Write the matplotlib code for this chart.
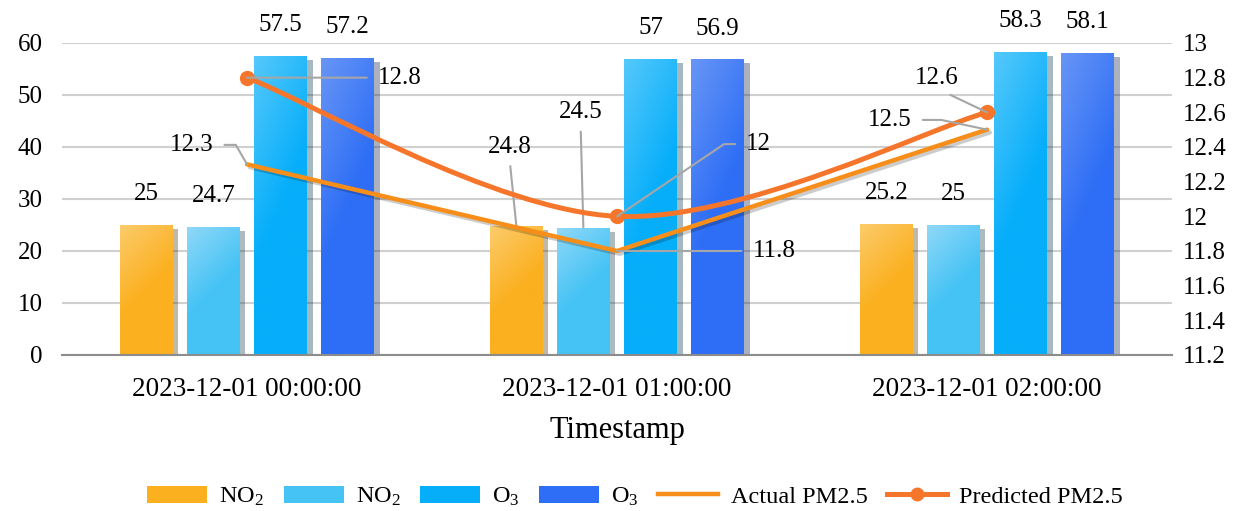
"""
NO2 / O3 浓度柱状图 + PM2.5 实际/预测折线（双轴）
"""

import numpy as np
import matplotlib
matplotlib.use("Agg")
import matplotlib.pyplot as plt
import matplotlib.patheffects as pe
from matplotlib.path import Path
from matplotlib.patches import PathPatch, Patch
from matplotlib.lines import Line2D
from matplotlib.colors import LinearSegmentedColormap

plt.rcParams["font.family"] = ["Liberation Serif", "DejaVu Serif"]
plt.rcParams["mathtext.fontset"] = "custom"
plt.rcParams["mathtext.rm"] = "Liberation Serif"
plt.rcParams["mathtext.it"] = "Liberation Serif:italic"

# ---- data ----
timestamps = ["2023-12-01 00:00:00", "2023-12-01 01:00:00", "2023-12-01 02:00:00"]
no2_a = [25, 24.8, 25.2]
no2_b = [24.7, 24.5, 25]
o3_a = [57.5, 57, 58.3]
o3_b = [57.2, 56.9, 58.1]
pm25_actual = [12.3, 11.8, 12.5]
pm25_pred = [12.8, 12.0, 12.6]

bar_series = [
    ("NO$_2$", no2_a, "#FBB020", "#FCCB6A"),
    ("NO$_2$", no2_b, "#45C3F5", "#8FD8F8"),
    ("O$_3$", o3_a, "#06AEFA", "#55C8FB"),
    ("O$_3$", o3_b, "#2E6EF6", "#6795F5"),
]
offsets = [-0.272, -0.091, 0.091, 0.272]
bar_w = 0.143
c_actual = "#F78E1A"
c_pred = "#F5762B"
leader = "#A6A6A6"

fig = plt.figure(figsize=(12.38, 5.11), dpi=100)
ax = fig.add_axes([0.0501, 0.3053, 0.8966, 0.6106])
ax2 = ax.twinx()

x = np.arange(len(timestamps))

# ---- bars with gradient + shadow ----
gx, gy = np.meshgrid(np.linspace(0, 1, 40), np.linspace(0, 1, 40))
grad = (gx + gy * 2.5) / 3.5   # row 0 = top -> light top-left
for (name, vals, c_main, c_light), off in zip(bar_series, offsets):
    bars = ax.bar(x + off, vals, width=bar_w, color=c_main, zorder=2,
                  path_effects=[pe.withSimplePatchShadow(offset=(4, -3), alpha=0.35)])
    cmap = LinearSegmentedColormap.from_list("g", [c_light, c_main, c_main])
    for b in bars:
        im = ax.imshow(grad, cmap=cmap, extent=(b.get_x(), b.get_x() + b.get_width(), 0, b.get_height()),
                       origin="upper", aspect="auto", zorder=2.1, vmin=0, vmax=1)
        im.set_clip_path(b)

# bar labels
for i, (name, vals, c_main, c_light) in enumerate(bar_series):
    for j, v in enumerate(vals):
        xp = j + offsets[i]
        if j == 1 and i == 0:
            ax.annotate(f"{v:g}", xy=(xp, v), xytext=(-5, 57), textcoords="offset points",
                        ha="center", va="center", fontsize=18,
                        arrowprops=dict(arrowstyle="-", color=leader, lw=1.5, relpos=(0.5, 0),
                                        shrinkA=4, shrinkB=0))
        elif j == 1 and i == 1:
            ax.annotate(f"{v:g}", xy=(xp, v), xytext=(-2, 83), textcoords="offset points",
                        ha="center", va="center", fontsize=18,
                        arrowprops=dict(arrowstyle="-", color=leader, lw=1.5, relpos=(0.5, 0),
                                        shrinkA=4, shrinkB=0))
        else:
            ax.annotate(f"{v:g}", xy=(xp, v), xytext=(0, 22), textcoords="offset points",
                        ha="center", va="center", fontsize=18)

# ---- lines ----
ax2.plot(x, pm25_actual, color=c_actual, lw=3.2, zorder=3, solid_capstyle="round",
         path_effects=[pe.SimpleLineShadow(offset=(2, -2), alpha=0.2), pe.Normal()])

# smoothed predicted line (bezier through data points)
pts = np.column_stack([x, pm25_pred]).astype(float)
verts = [tuple(pts[0])]
codes = [Path.MOVETO]
n = len(pts)
for i in range(n - 1):
    p0, p1, p2, p3 = pts[max(i - 1, 0)], pts[i], pts[i + 1], pts[min(i + 2, n - 1)]
    verts += [tuple(p1 + (p2 - p0) / 6), tuple(p2 - (p3 - p1) / 6), tuple(p2)]
    codes += [Path.CURVE4] * 3
ax2.add_patch(PathPatch(Path(verts, codes), fill=False, edgecolor=c_pred, lw=3.6, zorder=4,
                        capstyle="round"))
ax2.plot(x, pm25_pred, linestyle="none", marker="o", markersize=10, color=c_pred, zorder=5)

# line labels (offsets in points, leader settings)
line_labels = [
    (0, pm25_actual[0], (-40, 14), (1, 0.5), "angle,angleA=0,angleB=120,rad=0"),
    (1, pm25_actual[1], (113, 0), (0, 0.5), "arc3"),
    (2, pm25_actual[2], (-70, 7), (1, 0.5), "angle,angleA=0,angleB=168,rad=0"),
    (0, pm25_pred[0], (110, 0), (0, 0.5), "arc3"),
    (1, pm25_pred[1], (102, 52), (0, 0.5), "angle,angleA=0,angleB=34,rad=0"),
    (2, pm25_pred[2], (-36, 25), (0.5, 0), "arc3"),
]
for xi, yi, off, rel, conn in line_labels:
    ax2.annotate(f"{yi:g}", xy=(xi, yi), xytext=off, textcoords="offset points",
                 ha="center", va="center", fontsize=18, zorder=6,
                 arrowprops=dict(arrowstyle="-", color=leader, lw=1.5, relpos=rel,
                                 connectionstyle=conn, shrinkA=6, shrinkB=0))

# ---- axes styling ----
right_ticks = np.round(np.arange(11.2, 13.01, 0.2), 1)
ax.set_xlim(-0.5, 2.5)
ax.set_ylim(0, 60)
ax.set_yticks(np.arange(0, 61, 10))
ax2.set_ylim(11.2, 13)
ax2.set_yticks(right_ticks)
ax2.set_yticklabels([f"{t:g}" for t in right_ticks])
ax.set_xticks(x)
ax.set_xticklabels(timestamps)
ax.set_axisbelow(True)
ax.grid(axis="y", color="#D0D0D0", lw=1.5)
ax.tick_params(axis="y", length=0, labelsize=18, pad=14)
ax.tick_params(axis="x", length=0, labelsize=19.5, pad=16)
ax2.tick_params(axis="y", length=0, labelsize=18, pad=8)
for a in (ax, ax2):
    for s in ("top", "left", "right"):
        a.spines[s].set_visible(False)
ax2.spines["bottom"].set_visible(False)
ax.spines["bottom"].set_color("#8C8C8C")
ax.spines["bottom"].set_linewidth(1.5)
ax.set_xlabel("Timestamp", fontsize=22, labelpad=10)

# ---- legend ----
handles = [Patch(facecolor=c, edgecolor="none") for _, _, c, _ in bar_series]
handles += [Line2D([], [], color=c_actual, lw=3.2),
            Line2D([], [], color=c_pred, lw=3.6, marker="o", markersize=9)]
labels = [s[0] for s in bar_series] + ["Actual PM2.5", "Predicted PM2.5"]
fig.legend(handles, labels, loc="center", bbox_to_anchor=(635 / 1238, 1 - 497 / 511), ncol=6,
           frameon=False, fontsize=17.5, handlelength=2.47, handleheight=0.75,
           handletextpad=0.5, columnspacing=0.8)

plt.savefig("out.png", dpi=100)
plt.close()
